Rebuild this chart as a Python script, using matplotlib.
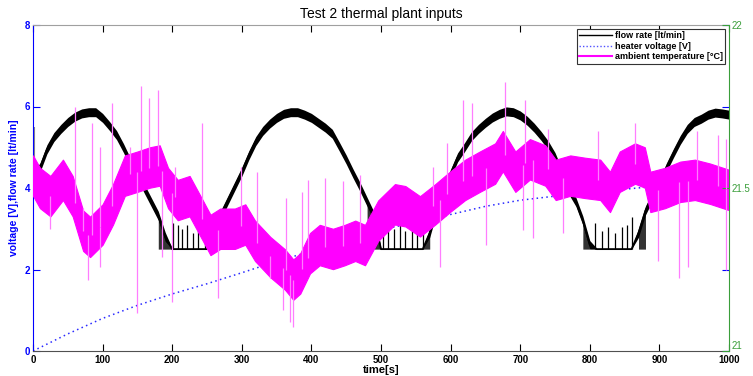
import numpy as np
import matplotlib
matplotlib.use('Agg')
import matplotlib.pyplot as plt
from matplotlib.lines import Line2D

plt.rcParams['font.family'] = ['Liberation Sans', 'DejaVu Sans']

# ---------------- data ----------------
time_s = np.arange(0, 1001, 10)
flow_rate = [4.3, 4.5, 4.95, 5.25, 5.45, 5.62, 5.75, 5.83, 5.86, 5.86,
             5.72, 5.52, 5.3, 4.98, 4.62, 4.32, 3.98, 3.65, 3.32, 2.8,
             2.5, 2.5, 2.5, 2.5, 2.5, 2.5, 2.8, 3.35, 3.7, 4.05,
             4.4, 4.8, 5.15, 5.4, 5.58, 5.72, 5.82, 5.86, 5.86, 5.8,
             5.72, 5.6, 5.48, 5.33, 5.02, 4.7, 4.35, 4.02, 3.66, 3.3,
             2.5, 2.5, 2.5, 2.5, 2.5, 2.5, 2.5, 2.9, 3.5, 3.95,
             4.35, 4.75, 5.0, 5.27, 5.45, 5.6, 5.73, 5.82, 5.88, 5.86,
             5.78, 5.65, 5.48, 5.28, 5.05, 4.76, 4.35, 3.95, 3.66, 3.2,
             2.6, 2.5, 2.5, 2.5, 2.5, 2.5, 2.5, 2.9, 3.45, 3.8,
             4.1, 4.5, 4.85, 5.18, 5.45, 5.62, 5.7, 5.8, 5.85, 5.83, 5.8]
flow_band = 0.11
flow_floor = 2.5
flow_start_peak = 5.5
chatter_windows = [(172, 200), (252, 272), (478, 500), (560, 578), (782, 802), (862, 880)]
flow_spike_t = [201, 208, 214, 221, 230, 237, 247, 503, 510, 518, 527, 535, 545, 552, 560,
                808, 818, 826, 836, 846, 853, 861]
flow_spike_top = [3.14, 3.1, 3.0, 3.1, 2.9, 3.05, 3.1, 3.2, 3.3, 3.0, 3.25, 2.95, 3.2, 3.1, 3.3,
                  3.14, 2.95, 3.05, 2.9, 3.05, 3.1, 3.3]

heater_t = [0, 50, 100, 150, 200, 250, 300, 350, 400, 450, 500,
            550, 600, 650, 700, 750, 800, 850, 900, 950, 1000]
heater_v = [0.0, 0.42, 0.8, 1.12, 1.4, 1.65, 1.92, 2.2, 2.45, 2.75, 2.98,
            3.15, 3.35, 3.55, 3.7, 3.8, 3.88, 3.97, 4.05, 4.12, 4.2]

temp_t = [0, 10, 25, 43, 57, 72, 82, 100, 115, 132, 150, 168, 182, 194, 208, 225, 244,
          255, 269, 290, 305, 319, 341, 362, 374, 384, 398, 412, 431, 448, 463, 477, 496,
          520, 535, 556, 578, 599, 621, 642, 664, 675, 693, 714, 736, 751, 772, 793, 815,
          829, 843, 865, 879, 887, 908, 930, 951, 973, 1000]
temp_c = [21.538, 21.5, 21.475, 21.525, 21.475, 21.369, 21.35, 21.388, 21.45, 21.538,
          21.55, 21.563, 21.569, 21.5, 21.463, 21.475, 21.4,
          21.356, 21.375, 21.375, 21.388, 21.338, 21.288, 21.25, 21.219, 21.238, 21.3,
          21.325, 21.313, 21.325, 21.338, 21.325, 21.4,
          21.45, 21.444, 21.413, 21.45, 21.488, 21.525, 21.55, 21.575, 21.613, 21.55,
          21.588, 21.569, 21.525, 21.538, 21.531, 21.525,
          21.488, 21.55, 21.575, 21.563, 21.488, 21.5, 21.519, 21.525, 21.513, 21.494]
temp_band = 0.062
temp_up_t = [60, 85, 96, 114, 140, 155, 166, 180, 204, 243, 299, 322, 363, 387, 395, 420,
             445, 470, 575, 595, 618, 631, 678, 707, 740, 812, 865, 954, 984, 995]
temp_up_c = [21.75, 21.70, 21.625, 21.762, 21.625, 21.812, 21.775, 21.80, 21.563, 21.70,
             21.563, 21.55, 21.469, 21.488, 21.525, 21.53, 21.52, 21.54, 21.563, 21.638,
             21.769, 21.762, 21.825, 21.769, 21.68, 21.675, 21.70, 21.675, 21.663, 21.65]
temp_dn_t = [24, 72, 79, 96, 149, 185, 200, 266, 340, 359, 369, 374, 585, 651, 704, 718,
             762, 898, 928, 941, 996]
temp_dn_c = [21.375, 21.438, 21.219, 21.258, 21.116, 21.288, 21.15, 21.163, 21.225, 21.125,
             21.088, 21.075, 21.258, 21.325, 21.371, 21.346, 21.363, 21.275, 21.225, 21.259,
             21.25]

xticks = [0, 100, 200, 300, 400, 500, 600, 700, 800, 900, 1000]
left_ticks = [0, 2, 4, 6, 8]
right_ticks = [21, 21.5, 22]
right_ticklabels = ['21', '21.5', '22']

# ---------------- styling ----------------
BLUE = '#0000ff'
GREEN = '#3a9e3a'
MAG = '#ff00ff'
MAG_LIGHT = '#ff7dff'

fig = plt.figure(figsize=(7.53, 3.76), dpi=100)
ax = fig.add_axes([33 / 753, 25 / 376, 696 / 753, 326 / 376])
ax2 = ax.twinx()

flow = np.array(flow_rate, dtype=float)
t = np.asarray(time_s, dtype=float)

# flow rate
above = flow > flow_floor
lo = np.maximum(flow - flow_band, flow_floor)
hi = np.where(above, flow + flow_band, flow_floor + 0.02)
ax.fill_between(t, lo, hi, color='black', lw=0)
ax.plot(t, np.maximum(flow, flow_floor), color='black', lw=1.3)
for (a, b) in chatter_windows:
    m = (t >= a) & (t <= b)
    ax.fill_between(t, flow_floor, flow, where=m, color='black', lw=0, alpha=0.8)
ax.vlines(flow_spike_t, flow_floor, flow_spike_top, color='black', lw=0.9)
ax.vlines([1], flow[0], flow_start_peak, color='#888888', lw=1.5)

# heater voltage
ax.plot(heater_t, heater_v, color='#2a2aff', lw=1.1, ls=(0, (1, 2.2)))

# ambient temperature on the right axis
tc = np.asarray(temp_c)
ax2.fill_between(temp_t, tc - temp_band, tc + temp_band, color=MAG, lw=0.8, edgecolor=MAG)
up_base = np.interp(temp_up_t, temp_t, tc)
dn_base = np.interp(temp_dn_t, temp_t, tc)
ax2.vlines(temp_up_t, up_base, temp_up_c, color=MAG_LIGHT, lw=0.9)
ax2.vlines(temp_dn_t, temp_dn_c, dn_base, color=MAG_LIGHT, lw=0.9)

# axes
ax.set_xlim(0, 1000)
ax.set_ylim(0, 8)
ax2.set_ylim(21, 22)
ax.set_xticks(xticks)
ax.set_xticklabels([str(v) for v in xticks])
ax.set_yticks(left_ticks)
ax2.set_yticks(right_ticks)
ax2.set_yticklabels(right_ticklabels)

ax.tick_params(axis='x', direction='in', length=5, top=True, colors='black',
               labelsize=7, pad=3)
ax.tick_params(axis='y', direction='in', length=5, right=True, colors=BLUE,
               labelsize=7, pad=2)
ax2.tick_params(axis='y', direction='in', length=5, colors=GREEN, labelsize=7, pad=2)
for lab in ax.get_xticklabels() + ax.get_yticklabels():
    lab.set_fontweight('bold')
r_labels = ax2.get_yticklabels()
r_labels[0].set_va('bottom')

ax.spines['left'].set_color(BLUE)
ax.spines['top'].set_color('#a0a0a0')
ax.spines['bottom'].set_color('#505050')
ax2.spines['right'].set_color(GREEN)
ax2.spines['left'].set_visible(False)
ax2.spines['top'].set_visible(False)
ax2.spines['bottom'].set_visible(False)
ax.spines['right'].set_visible(False)

ax.set_title('Test 2 thermal plant inputs', fontsize=10, pad=5)
ax.set_xlabel('time[s]', fontsize=8, fontweight='bold', labelpad=0)
ax.set_ylabel('voltage [V],flow rate [lt/min]', fontsize=7.5, fontweight='bold',
              color=BLUE, labelpad=4)

handles = [Line2D([], [], color='black', lw=1),
           Line2D([], [], color='#5050ff', lw=1, ls=(0, (1, 1.5))),
           Line2D([], [], color=MAG, lw=1.5)]
labels = ['flow rate [lt/min]', 'heater voltage [V]', 'ambient temperature [\u00b0C]']
leg = ax2.legend(handles, labels, loc='upper right', fancybox=False, framealpha=1,
                 edgecolor='#333333', prop={'size': 6.5, 'weight': 'bold'},
                 handlelength=3.6, handletextpad=0.3, labelspacing=0.15,
                 borderpad=0.3, borderaxespad=0.4)
leg.get_frame().set_linewidth(0.8)

fig.savefig('out.png', dpi=100)
